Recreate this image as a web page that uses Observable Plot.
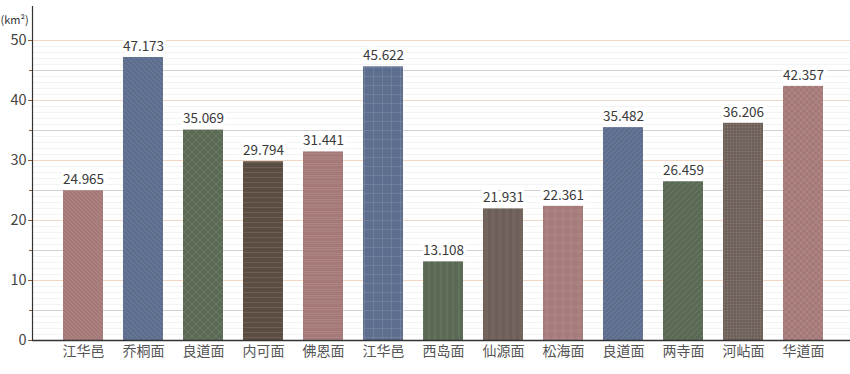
<!DOCTYPE html>
<html>
<head>
<meta charset="utf-8">
<script src="https://cdn.jsdelivr.net/npm/d3@7"></script>
<script src="https://cdn.jsdelivr.net/npm/@observablehq/plot@0.6"></script>
<style>
  body { margin: 0; background: #fff; }
  #chart svg { display: block; }
</style>
</head>
<body>
<div id="chart"></div>
<script>
const categories = ["江华邑", "乔桐面", "良道面", "内可面", "佛恩面", "江华邑", "西岛面", "仙源面", "松海面", "良道面", "两寺面", "河岾面", "华道面"];
const values = [24.965, 47.173, 35.069, 29.794, 31.441, 45.622, 13.108, 21.931, 22.361, 35.482, 26.459, 36.206, 42.357];
const majorTicks = [0, 10, 20, 30, 40, 50];
const midTicks = [5, 15, 25, 35, 45];
const minorTicks = d3.range(0, 51);

const PINK = "#a67979", BLUE = "#5e6e8e", GREEN = "#5a6a54", DBROWN = "#5c4d43", GBROWN = "#6d5f57";
const L = "rgba(255,255,255,0.1)";
const patterns = [
  [PINK, 4, `<path d="M-1,-1L5,5M-1,3L1,5M3,-1L5,1" stroke="${L}" stroke-width="1"/>`],
  [BLUE, 5, `<path d="M-1,-1L6,6M-1,4L1,6M4,-1L6,1" stroke="${L}" stroke-width="1"/>`],
  [GREEN, 8, `<path d="M0,0L8,8M8,0L0,8" stroke="${L}" stroke-width="1"/>`],
  [DBROWN, 5, `<path d="M0,2.5H5" stroke="${L}" stroke-width="1"/>`],
  [PINK, 6, `<path d="M0,1.5H6M0,3.5H6" stroke="${L}" stroke-width="0.8"/>`],
  [BLUE, 9, `<path d="M0,4.5H9M4.5,0V9" stroke="${L}" stroke-width="1"/>`],
  [GREEN, 6, `<path d="M3,0V6" stroke="${L}" stroke-width="1"/>`],
  [GBROWN, 7, `<path d="M2,0V7M4,0V7" stroke="${L}" stroke-width="0.8"/>`],
  [PINK, 8, `<path d="M0,2H8M0,4H8M2,0V8M4,0V8" stroke="${L}" stroke-width="0.8"/>`],
  [BLUE, 5, `<path d="M-1,6L6,-1M-1,1L1,-1M4,6L6,4" stroke="${L}" stroke-width="1"/>`],
  [GREEN, 6, `<path d="M-1,7L7,-1M-1,1L1,-1M5,7L7,5" stroke="${L}" stroke-width="1"/>`],
  [GBROWN, 3, `<path d="M0,1.5H3M1.5,0V3" stroke="${L}" stroke-width="0.7"/>`],
  [PINK, 6, `<path d="M0,0L6,6M6,0L0,6" stroke="${L}" stroke-width="1"/>`]
];

const data = values.map((v, i) => ({i, name: categories[i], value: v, fill: `url(#pat${i})`}));
const font = "'Noto Sans CJK KR', 'Noto Sans', sans-serif";

const chart = Plot.plot({
  width: 850,
  height: 374,
  marginLeft: 32,
  marginRight: 0,
  marginTop: 6,
  marginBottom: 34,
  style: {fontFamily: font, background: "#fff"},
  x: {type: "band", domain: d3.range(categories.length), range: [53, 833], paddingInner: 1/3, paddingOuter: 1/6, axis: null},
  y: {domain: [0, 55.67], axis: null},
  color: {type: "identity"},
  marks: [
    Plot.ruleY(minorTicks, {stroke: "#f3f3f3", strokeWidth: 1}),
    Plot.ruleY(midTicks, {stroke: "#d2d2d2", strokeWidth: 1}),
    Plot.ruleY(majorTicks.filter(d => d > 0), {stroke: "#f2d6c4", strokeWidth: 1}),
    Plot.barY(data, {x: "i", y: "value", fill: "fill"}),
    Plot.text(data, {x: "i", y: "value", text: d => d.value.toFixed(3), dy: -11, fontSize: 13.5, fill: "#3a3a3a", stroke: "white", strokeWidth: 7, fontWeight: 400}),
    Plot.axisY({ticks: majorTicks, tickSize: 4, tickPadding: 2, stroke: "#8a5a3e", fill: "#444", fontSize: 14.5, tickFormat: d => d, label: null}),
    Plot.axisY({ticks: midTicks, tickSize: 3, stroke: "#8a5a3e", tickFormat: null, text: null, label: null}),
    Plot.axisX({tickSize: 0, tickPadding: 6, fontSize: 14, fill: "#555", tickFormat: i => categories[i], label: null}),
    Plot.frame({anchor: "left", stroke: "#333", strokeWidth: 1.2}),
    Plot.ruleY([0], {stroke: "#333", strokeWidth: 1.5}),
    Plot.text(["(km²)"], {frameAnchor: "top-left", dx: -32, dy: 10, textAnchor: "start", fontSize: 11, fill: "#333"})
  ]
});

const defs = patterns.map(([c, s, body], i) =>
  `<pattern id="pat${i}" patternUnits="userSpaceOnUse" width="${s}" height="${s}"><rect width="${s}" height="${s}" fill="${c}"/>${body}</pattern>`
).join("");
chart.insertAdjacentHTML("afterbegin", `<defs>${defs}</defs>`);
document.getElementById("chart").appendChild(chart);
</script>
</body>
</html>
